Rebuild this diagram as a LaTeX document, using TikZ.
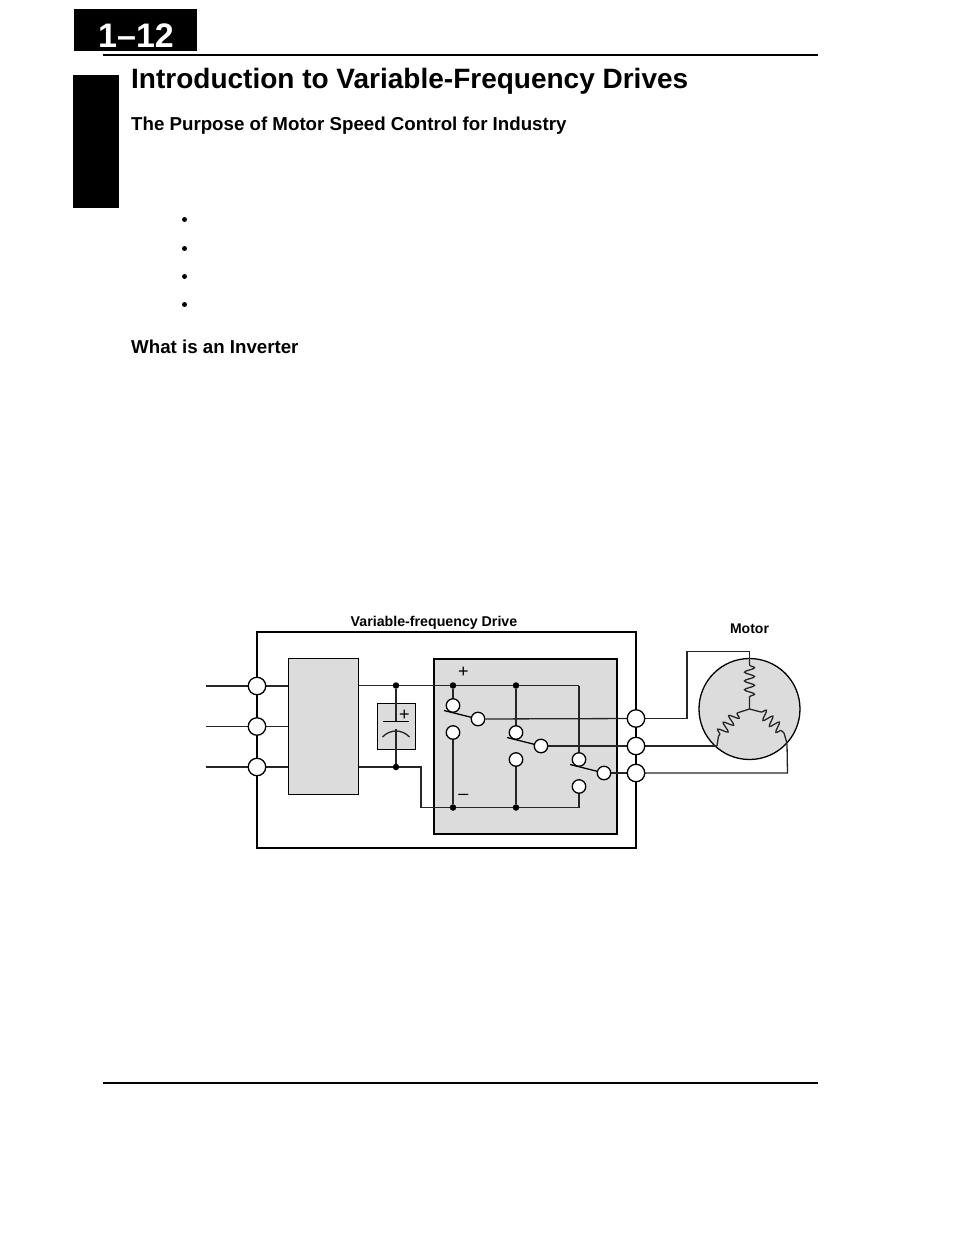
\documentclass[tikz,border=0pt]{standalone}
\usepackage{fontspec}
\setmainfont{Liberation Sans}
\usetikzlibrary{
  calc,
  decorations.pathmorphing,
  positioning
}
\definecolor{boxgray}{HTML}{DCDCDC}

\tikzset{
  wire/.style = {line width = 1.3pt, black!85},
  terminal/.style = {circle, draw, fill = white, line width = 1.3pt, minimum size = 17.5pt, inner sep = 0pt},
  contact/.style = {circle, draw, fill = white, line width = 1.3pt, minimum size = 13.5pt, inner sep = 0pt},
  junction/.style = {circle, fill = black, minimum size = 6.5pt, inner sep = 0pt},
  graybox/.style = {rectangle, draw, fill = boxgray, inner sep = 0pt},
  pagetext/.style = {anchor = base west, inner sep = 0pt, font = \bfseries},
  listdot/.style = {circle, fill = black, minimum size = 5pt, inner sep = 0pt},
  winding/.style = {wire, decorate, decoration = {snake, segment length = 8.8pt, amplitude = 5pt}}
}

\begin{document}
\begin{tikzpicture}[x = 1pt, y = -1pt]
    \useasboundingbox (0,0) rectangle (954,1235);

    % page furniture
    \node[fill = black, minimum width = 123pt, minimum height = 42pt, inner sep = 0pt] (tab) at (135.5,30) {};
    \node[fill = black, minimum width = 46pt, minimum height = 133pt, inner sep = 0pt] (side) at (96,141.5) {};
    \node[pagetext, text = white, font = \bfseries\fontsize{34}{34}\selectfont] (page) at (98,47) {1--12};
    \coordinate (topa) at (103,55);
    \coordinate (topb) at (818,55);
    \coordinate (bota) at (103,1082.5);
    \coordinate (botb) at (818,1082.5);
    \draw[line width = 2pt] (topa) -- (topb);
    \draw[line width = 2pt] (bota) -- (botb);

    \node[pagetext, font = \bfseries\fontsize{28}{28}\selectfont] (title) at (131,88) {Introduction to Variable-Frequency Drives};
    \node[pagetext, font = \bfseries\fontsize{18.7}{18.7}\selectfont] (purpose) at (131,130) {The Purpose of Motor Speed Control for Industry};
    \node[pagetext, font = \bfseries\fontsize{18.7}{18.7}\selectfont] (what) at (131,353) {What is an Inverter};
    \foreach \i/\y in {1/219.5, 2/248.5, 3/276.5, 4/304.5}
      \node[listdot] (dot\i) at (184.5,\y) {};

    % drive outline and the two gray blocks
    \node[rectangle, draw, line width = 2.4pt, minimum width = 379pt, minimum height = 216.5pt, inner sep = 0pt] (drive) at (446.5,740) {};
    \node[graybox, line width = 1pt, minimum width = 70pt, minimum height = 135.5pt] (rect) at (323.5,726.25) {};
    \node[graybox, line width = 1.6pt, minimum width = 183.5pt, minimum height = 175.5pt] (inv) at (525.5,746.5) {};
    \node[graybox, line width = 1pt, minimum width = 38pt, minimum height = 46pt] (cap) at (396.4,726.5) {};

    \node[font = \bfseries\fontsize{14.2}{14.2}\selectfont, inner sep = 0pt] (drivelabel) at (434,622.5) {Variable-frequency Drive};
    \node[font = \bfseries\fontsize{14}{14}\selectfont, inner sep = 0pt] (motorlabel) at (749.5,628.5) {Motor};

    % input side
    \foreach \i/\y in {1/686, 2/726.5, 3/767} {
      \coordinate (feed\i) at (206,\y);
      \draw[wire] (feed\i) -- (rect.west |- feed\i);
      \node[terminal] (in\i) at (257,\y) {};
    }

    % bus
    \node[junction] (pa) at (396,685.5) {};
    \node[junction] (na) at (396,767) {};
    \node[junction] (pb) at (453,685.5) {};
    \node[junction] (pc) at (516,685.5) {};
    \node[junction] (nb) at (453,807.5) {};
    \node[junction] (nc) at (516,807.5) {};
    \coordinate (pd) at (579,685.5);
    \coordinate (nd) at (579,807.5);
    \coordinate (bend) at (421,767);
    \coordinate (plate) at (396,721.5);
    \coordinate (arc) at (396,729);

    \draw[wire] (rect.east |- pa) -- (pa) -- (pb) -- (pc) -- (pd);
    \draw[wire] (rect.east |- na) -- (na) -- (bend) |- (nb) -- (nc) -- (nd);
    \draw[wire] (pa) -- (plate);
    \draw[wire] (arc) -- (na);
    \draw[line width = 1.8pt] ($(plate) + (-13,0)$) -- ($(plate) + (13,0)$);
    \draw[wire] ($(arc) + (-13.5,8)$) .. controls ($(arc) + (-6,0)$) and ($(arc) + (6,0)$) .. ($(arc) + (13.5,8)$);
    \node[inner sep = 0pt, font = \fontsize{18}{18}\selectfont] (capplus) at (404.5,715) {+};
    \node[inner sep = 0pt, font = \fontsize{18}{18}\selectfont] (busplus) at (463.5,672.5) {+};
    \node[inner sep = 0pt, font = \fontsize{18}{18}\selectfont] (busminus) at (463.5,796.5) {--};

    % the three switches
    \foreach \s/\x/\y/\p/\n in {a/453/719/pb/nb, b/516/746/pc/nc, c/579/773/pd/nd} {
      \coordinate (lever\s) at ($(\x,\y) + (-9,-8.5)$);
      \draw[wire] (\p) -- (\x,\y-14);
      \draw[wire] (\n) -- (\x,\y+14);
      \draw[wire, black] (lever\s) -- (\x+25,\y);
      \node[contact] (hi\s) at (\x,\y-13.5) {};
      \node[contact] (lo\s) at (\x,\y+13.5) {};
      \node[contact] (mid\s) at (\x+25,\y) {};
    }

    % motor
    \node[circle, draw, fill = boxgray, line width = 1.3pt, minimum size = 101pt, inner sep = 0pt] (motor) at (749.5,709) {};
    \coordinate (star) at (749.5,709);
    \coordinate (ua) at (749.5,665);
    \coordinate (ub) at (749.5,700);
    \coordinate (va) at (737,713);
    \coordinate (vb) at (718.5,736);
    \coordinate (wa) at (761,712);
    \coordinate (wb) at (784,733);
    \coordinate (uturn) at (687,651.5);
    \coordinate (wturn) at (787.5,773);
    \coordinate (wend) at (787,743.5);
    \coordinate (vend) at (717,746);

    \draw[winding] (ua) -- (ub);
    \draw[winding] (va) -- (vb);
    \draw[winding] (wa) -- (wb);
    \draw[wire] (motor.north) -- (ua) (ub) -- (star) -- (va) (star) -- (wa) (wb) -- (wend) (vb) -- (vend);

    % output side
    \foreach \i/\y in {1/718.5, 2/746, 3/773}
      \coordinate (outp\i) at (636,\y);
    \draw[wire] (outp1) -- (uturn |- outp1) -- (uturn) -| (motor.north);
    \draw[wire] (outp2) -- (vend);
    \draw[wire] (outp3) -- (wturn) -- (wend);
    \draw[wire] (mida) -- (outp1);
    \draw[wire] (midb) -- (outp2);
    \draw[wire] (midc) -- (outp3);
    \foreach \i in {1, 2, 3}
      \node[terminal] (out\i) at (outp\i) {};
  \end{tikzpicture}
\end{document}
